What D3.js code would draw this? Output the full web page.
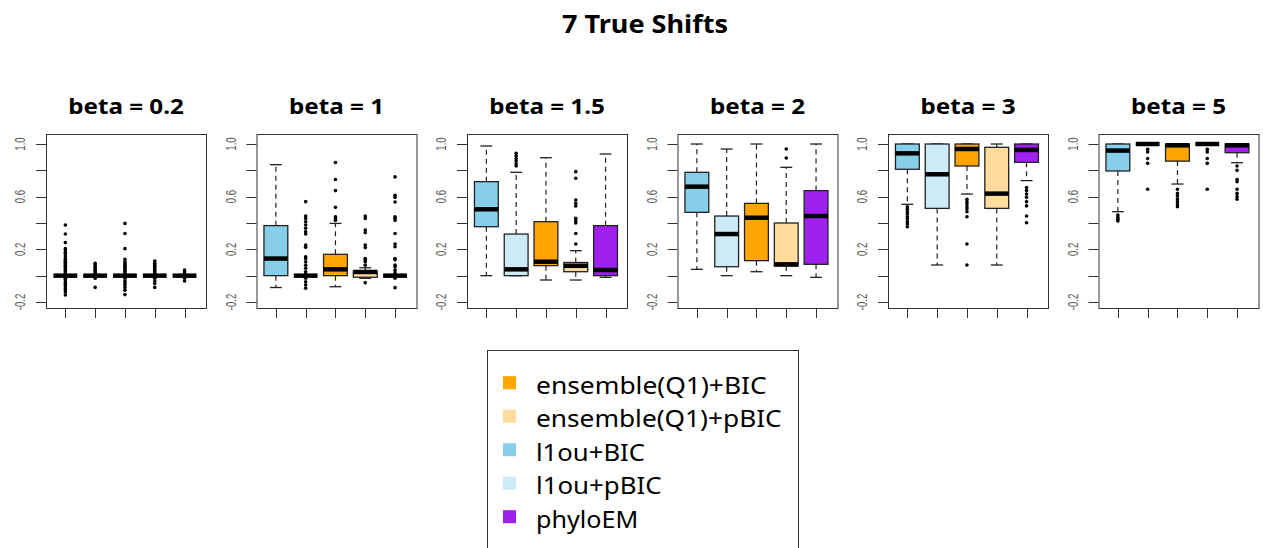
<!DOCTYPE html>
<html>
<head>
<meta charset="utf-8">
<script src="https://cdn.jsdelivr.net/npm/d3@7"></script>
<style>
  html, body { margin: 0; padding: 0; background: #fff; }
  svg { display: block; }
</style>
</head>
<body>
<svg id="chart" width="1263" height="548"></svg>
<script>
// Panel titles (shift size) and the five methods drawn in each panel
const betas = ["0.2", "1", "1.5", "2", "3", "5"];
const methods = ["l1ou+BIC", "l1ou+pBIC", "ensemble(Q1)+BIC", "ensemble(Q1)+pBIC", "phyloEM"];
const legendOrder = ["ensemble(Q1)+BIC", "ensemble(Q1)+pBIC", "l1ou+BIC", "l1ou+pBIC", "phyloEM"];

// Box statistics, one row per panel, one entry per method
const lowerWhisker = [
  [0, 0, 0, 0, 0],
  [-0.09, 0, -0.084, -0.02, 0],
  [0, 0, -0.033, -0.033, -0.013],
  [0.048, 0, 0.03, 0, -0.013],
  [0.542, 0.081, 0.62, 0.081, 0.722],
  [0.486, 1, 0.696, 1, 0.858]
];
const lowerQuartile = [
  [0, 0, 0, 0, 0],
  [0, 0, 0, -0.012, 0],
  [0.372, 0, 0.076, 0.03, 0],
  [0.481, 0.068, 0.114, 0.073, 0.086],
  [0.808, 0.511, 0.833, 0.511, 0.861],
  [0.795, 1, 0.87, 1, 0.934]
];
const medians = [
  [0, 0, 0, 0, 0],
  [0.13, 0, 0.048, 0.028, 0],
  [0.504, 0.048, 0.106, 0.075, 0.043],
  [0.676, 0.316, 0.44, 0.086, 0.453],
  [0.929, 0.77, 0.962, 0.623, 0.955],
  [0.95, 1, 0.99, 1, 0.99]
];
const upperQuartile = [
  [0, 0, 0, 0, 0],
  [0.38, 0, 0.162, 0.035, 0],
  [0.714, 0.316, 0.41, 0.1, 0.38],
  [0.785, 0.453, 0.549, 0.4, 0.646],
  [1, 1, 1, 0.975, 1],
  [1, 1, 1, 1, 1]
];
const upperWhisker = [
  [0, 0, 0, 0, 0],
  [0.843, 0, 0.397, 0.06, 0],
  [0.985, 0.785, 0.896, 0.19, 0.924],
  [1, 0.962, 1, 0.823, 1],
  [1, 1, 1, 1, 1],
  [1, 1, 1, 1, 1]
];
const outliers = [
  [
    [0.385, 0.316, 0.251, 0.205, 0.195, 0.18, 0.17, 0.15, 0.13, 0.12, 0.11, 0.1, 0.09, 0.08, 0.07, 0.06, 0.05, 0.04, 0.03, 0.02, 0.01, -0.01, -0.02, -0.03, -0.046, -0.06, -0.07, -0.084, -0.1, -0.109, -0.125, -0.147],
    [0.094, 0.085, 0.07, 0.06, 0.05, 0.04, 0.03, 0.02, 0.01, -0.01, -0.02, -0.089],
    [0.397, 0.32, 0.205, 0.124, 0.105, 0.09, 0.08, 0.07, 0.06, 0.05, 0.04, 0.03, 0.02, 0.01, -0.01, -0.02, -0.04, -0.055, -0.07, -0.09, -0.11, -0.144],
    [0.111, 0.095, 0.08, 0.07, 0.06, 0.05, 0.04, 0.03, 0.02, 0.01, -0.01, -0.02, -0.04, -0.06, -0.089],
    [0.043, 0.03, 0.02, 0.01, -0.01, -0.02, -0.04]
  ],
  [
    [],
    [0.562, 0.453, 0.435, 0.41, 0.385, 0.36, 0.334, 0.316, 0.233, 0.215, 0.144, 0.13, 0.106, 0.08, 0.056, 0.03, 0.015, -0.02, -0.046, -0.07, -0.096],
    [0.86, 0.73, 0.646, 0.519, 0.448, 0.435, 0.42],
    [0.453, 0.435, 0.347, 0.327, 0.233, 0.213, 0.13, 0.12, 0.106, 0.08, -0.053],
    [0.75, 0.61, 0.595, 0.56, 0.448, 0.435, 0.42, 0.32, 0.24, 0.22, 0.13, 0.12, 0.08, 0.065, 0.04, 0.02, -0.02, -0.091]
  ],
  [
    [],
    [0.93, 0.91, 0.89, 0.87, 0.85, 0.833],
    [],
    [0.79, 0.74, 0.575, 0.55, 0.53, 0.435, 0.418, 0.4, 0.32, 0.24],
    []
  ],
  [
    [], [], [], [0.962, 0.894], []
  ],
  [
    [0.524, 0.505, 0.486, 0.468, 0.448, 0.43, 0.41, 0.392, 0.372],
    [],
    [0.58, 0.562, 0.544, 0.524, 0.506, 0.486, 0.448, 0.24, 0.081],
    [],
    [0.67, 0.646, 0.62, 0.595, 0.562, 0.53, 0.453, 0.402]
  ],
  [
    [0.46, 0.443, 0.428, 0.415],
    [0.96, 0.94, 0.89, 0.853, 0.656],
    [0.656, 0.625, 0.605, 0.582, 0.562, 0.54, 0.524],
    [0.96, 0.94, 0.89, 0.853, 0.656],
    [0.833, 0.8, 0.73, 0.714, 0.656, 0.625, 0.6, 0.58]
  ]
];

// Axis ticks
const yTicks = [-0.2, 0, 0.2, 0.4, 0.6, 0.8, 1.0];
const yTickLabels = ["-0.2", "", "0.2", "", "0.6", "", "1.0"];
const xTicks = [1, 2, 3, 4, 5];

const fillColor = d3.scaleOrdinal()
  .domain(methods)
  .range(["#87CEEB", "#CDEBF6", "#FFA500", "#FFDB9E", "#A020F0"]);

const svg = d3.select("#chart");
const FONT = "'Noto Sans', 'Open Sans', sans-serif";

// Main title
svg.append("text")
  .attr("x", 645).attr("y", 33)
  .attr("text-anchor", "middle")
  .attr("font-family", FONT).attr("font-weight", "bold")
  .attr("font-size", 25)
  .attr("textLength", 166).attr("lengthAdjust", "spacingAndGlyphs")
  .text("7 True Shifts");

const panelStep = 210.5;
const plotW = 160;
const plotTop = 134, plotBottom = 308;

const y = d3.scaleLinear().domain([-0.2456, 1.076]).range([plotBottom, plotTop]);

betas.forEach((beta, p) => {
  const left = 46 + p * panelStep;
  const x = d3.scaleLinear().domain([0.35, 5.72]).range([left, left + plotW]);
  const boxW = x(1.8) - x(1);
  const stapleW = boxW / 2;
  const g = svg.append("g");

  // panel title, slightly widened
  const cxTitle = left + plotW / 2;
  g.append("text")
    .attr("transform", `translate(${cxTitle},114) scale(1.1,1)`)
    .attr("text-anchor", "middle")
    .attr("font-family", FONT).attr("font-weight", "bold")
    .attr("font-size", 22)
    .text("beta = " + beta);

  // y axis ticks and rotated labels
  const yAxis = g.append("g");
  yAxis.selectAll("line").data(yTicks).join("line")
    .attr("x1", left - 10).attr("x2", left)
    .attr("y1", d => Math.round(y(d)) + 0.5).attr("y2", d => Math.round(y(d)) + 0.5)
    .attr("stroke", "#333").attr("stroke-width", 1);
  yAxis.selectAll("text").data(yTicks.map((t, i) => ({ t, label: yTickLabels[i] })).filter(d => d.label))
    .join("text")
    .attr("transform", d => `translate(${left - 21},${y(d.t)}) rotate(-90)`)
    .attr("text-anchor", "middle")
    .attr("font-family", "'Liberation Sans', Arial, sans-serif")
    .attr("font-size", 14)
    .attr("fill", "#555")
    .attr("textLength", d => d.label.length === 4 ? 16.5 : 13.3)
    .attr("lengthAdjust", "spacingAndGlyphs")
    .text(d => d.label);

  // x axis ticks (no labels)
  g.append("g").selectAll("line").data(xTicks).join("line")
    .attr("x1", d => Math.round(x(d)) + 0.5).attr("x2", d => Math.round(x(d)) + 0.5)
    .attr("y1", plotBottom).attr("y2", plotBottom + 10)
    .attr("stroke", "#333").attr("stroke-width", 1);

  // boxes
  methods.forEach((m, i) => {
    const cx = x(i + 1);
    const lw = lowerWhisker[p][i], q1 = lowerQuartile[p][i], md = medians[p][i];
    const q3 = upperQuartile[p][i], uw = upperWhisker[p][i];
    const bg = g.append("g");

    // dashed whiskers
    bg.append("line")
      .attr("x1", cx).attr("x2", cx).attr("y1", y(q3)).attr("y2", y(uw))
      .attr("stroke", "#222").attr("stroke-width", 1.2).attr("stroke-dasharray", "5,4");
    bg.append("line")
      .attr("x1", cx).attr("x2", cx).attr("y1", y(q1)).attr("y2", y(lw))
      .attr("stroke", "#222").attr("stroke-width", 1.2).attr("stroke-dasharray", "5,4");
    // staples
    [lw, uw].forEach(v => {
      bg.append("line")
        .attr("x1", cx - stapleW / 2).attr("x2", cx + stapleW / 2)
        .attr("y1", y(v)).attr("y2", y(v))
        .attr("stroke", "#222").attr("stroke-width", 1.3);
    });
    // box body
    bg.append("rect")
      .attr("x", cx - boxW / 2).attr("y", y(q3))
      .attr("width", boxW).attr("height", Math.max(0, y(q1) - y(q3)))
      .attr("fill", fillColor(m))
      .attr("stroke", "#222").attr("stroke-width", 1.3);
    // median
    bg.append("line")
      .attr("x1", cx - boxW / 2).attr("x2", cx + boxW / 2)
      .attr("y1", y(md)).attr("y2", y(md))
      .attr("stroke", "#000").attr("stroke-width", 4.5);
    // outlying points
    bg.selectAll("circle").data(outliers[p][i]).join("circle")
      .attr("cx", cx).attr("cy", d => y(d))
      .attr("r", 1.8).attr("fill", "#000");
  });

  // plot frame
  g.append("rect")
    .attr("x", left + 0.5).attr("y", plotTop + 0.5)
    .attr("width", plotW).attr("height", plotBottom - plotTop)
    .attr("fill", "none").attr("stroke", "#333").attr("stroke-width", 1);
});

// Legend
const legend = svg.append("g");
legend.append("rect")
  .attr("x", 487.5).attr("y", 350.5)
  .attr("width", 311).attr("height", 220)
  .attr("fill", "#fff").attr("stroke", "#333").attr("stroke-width", 1);
const legendWidths = { "ensemble(Q1)+BIC": 230.7, "ensemble(Q1)+pBIC": 245.7, "l1ou+BIC": 109, "l1ou+pBIC": 125.7, "phyloEM": 102.3 };
legendOrder.forEach((m, k) => {
  const cy = 382.7 + k * 33.5;
  legend.append("rect")
    .attr("x", 503).attr("y", cy - 6.5)
    .attr("width", 13).attr("height", 13)
    .attr("fill", fillColor(m));
  legend.append("text")
    .attr("x", 536).attr("y", cy + 11)
    .attr("font-family", FONT)
    .attr("font-size", 23)
    .attr("textLength", legendWidths[m]).attr("lengthAdjust", "spacingAndGlyphs")
    .text(m);
});
</script>
</body>
</html>
